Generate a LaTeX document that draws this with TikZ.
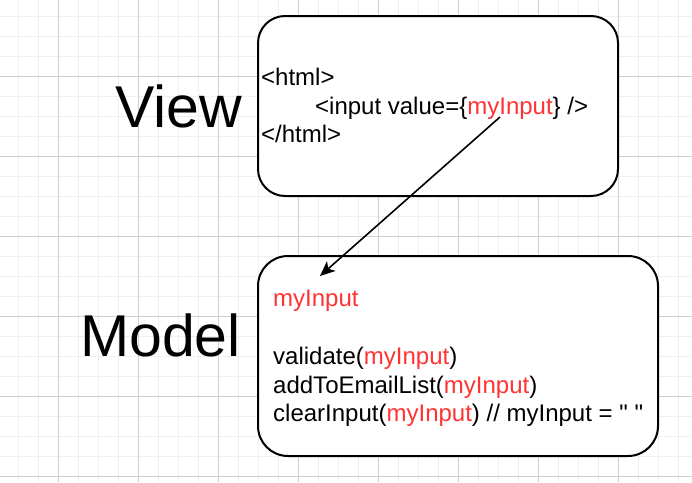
\documentclass[tikz,border=0pt]{standalone}
\usepackage{fontspec}
\setmainfont{Liberation Sans}
\newfontfamily\rawfont{Liberation Sans}
\usetikzlibrary{arrows.meta}
\definecolor{gridminor}{HTML}{F0F0F0}
\definecolor{gridmajor}{HTML}{D0D0D0}
\definecolor{varred}{HTML}{FF3333}
\newcommand{\mv}[1]{\textcolor{varred}{#1}}
\tikzset{
  box/.style={draw=black, line width=2pt, fill=white},
  code/.style={inner sep=0pt, anchor=base west, font=\fontsize{24}{28.8}\selectfont},
  big/.style={inner sep=0pt, anchor=base west, font=\fontsize{59}{70}\selectfont},
  link/.style={draw=black, line width=1.6pt, -{Stealth[length=15pt, width=13pt, inset=4pt]}}
}
\begin{document}
\begin{tikzpicture}[x=1pt, y=-1pt]
\useasboundingbox (0,0) rectangle (692,482);
% grid
\foreach \x in {18,38,...,692} \draw[gridminor, line width=1pt] (\x,0) -- (\x,482);
\foreach \y in {16,36,...,482} \draw[gridminor, line width=1pt] (0,\y) -- (692,\y);
\foreach \x in {58,138,...,692} \draw[gridmajor, line width=1pt] (\x,0) -- (\x,482);
\foreach \y in {76,156,...,482} \draw[gridmajor, line width=1pt] (0,\y) -- (692,\y);
% boxes
\draw[box, rounded corners=27pt] (258,16) rectangle (618,196);
\node (viewbox) at (438,106) {};
\draw[box, rounded corners=30pt] (258,256) rectangle (658,456);
\node (modelbox) at (458,356) {};
% labels
\node[big] (viewlbl) at (115,127) {View};
\node[big] (modellbl) at (80,356.7) {Model};
% view code
\node[code] (v1) at (261,85.5) {<html>};
\node[code] (v2) at (315,114) {<input value=\{\mv{myInput}\} />};
\node[code] (v3) at (261,142.5) {</html>};
% model code
\node[code] (m1) at (273,306.5) {\mv{myInput}};
\node[code] (m3) at (273,364) {validate(\mv{myInput})};
\node[code] (m4) at (273,393) {addToEmailList(\mv{myInput})};
\node[code] (m5) at (273,421.7) {clearInput(\mv{myInput}) // myInput = {\rawfont " "}};
% arrow
\coordinate (astart) at (500,117);
\coordinate (aend) at (320,276);
\draw[link] (astart) -- (aend);
\end{tikzpicture}
\end{document}
